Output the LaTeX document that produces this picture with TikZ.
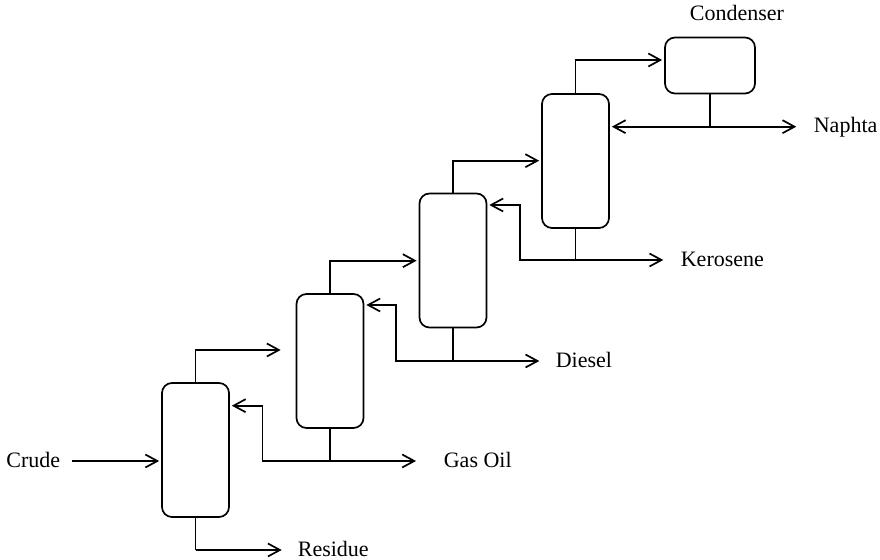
\documentclass[tikz,border=0pt]{standalone}
\usepackage{fontspec}
\setmainfont{Liberation Serif}
\usetikzlibrary{arrows.meta}
\begin{document}
\begin{tikzpicture}[x=0.5pt,y=-0.5pt,
  line width=0.85pt,
  col/.style={draw, rounded corners=5pt, minimum width=33.5pt, minimum height=67pt, inner sep=0pt},
  cond/.style={draw, rounded corners=5pt, minimum width=45pt, minimum height=28pt, inner sep=0pt},
  lbl/.style={font=\fontsize{11}{13}\selectfont, inner sep=0pt},
  arr/.style={-{Straight Barb[length=6pt,width=6.5pt]}, shorten >=1pt}
]
\useasboundingbox (0,0) rectangle (880,560);
% vessels
\node[col] (c1) at (195.5,450) {};
\node[col] (c2) at (330,361) {};
\node[col] (c3) at (453,260.5) {};
\node[col] (c4) at (575.5,161) {};
\node[cond] (cd) at (710,65.5) {};
% labels
\node[lbl, anchor=base east] (crude) at (61,467.5) {Crude};
\node[lbl, anchor=base west] (res) at (297,556.5) {Residue};
\node[lbl, anchor=base west] (gas) at (443,467.5) {Gas Oil};
\node[lbl, anchor=base west] (dsl) at (555,367.5) {Diesel};
\node[lbl, anchor=base west] (ker) at (680,266.5) {Kerosene};
\node[lbl, anchor=base west] (nap) at (813,133) {Naphta};
\node[lbl, anchor=base] (cdl) at (737,21) {Condenser};
% junctions and bends
\coordinate (j1) at (195.5,550);
\coordinate (j2) at (330,461);
\coordinate (j3) at (453,361);
\coordinate (j4) at (575.5,260);
\coordinate (j5) at (710,126.7);
\coordinate (t1) at (195.5,350);
\coordinate (t2) at (330,260.7);
\coordinate (t3) at (453,160.7);
\coordinate (t4) at (575.5,60);
\coordinate (r1) at (262.5,405.7);
\coordinate (r2) at (396,305);
\coordinate (r3) at (520,205);
% connectors
\draw[arr, shorten <=5.35pt] (crude.east |- j2) -- (c1.west |- j2);
\draw (c1.south) -- (j1);
\draw[arr, shorten >=7.65pt] (j1) -- (res.west |- j1);
\draw[arr, shorten >=7.5pt] (c1.north) |- (c2.west |- t1);
\draw (c2.south) -- (j2);
\draw[arr] (j2) -| (r1) -- (c1.east |- r1);
\draw[arr, shorten >=13.5pt] (j2) -- (gas.west |- j2);
\draw[arr] (c2.north) |- (c3.west |- t2);
\draw (c3.south) -- (j3);
\draw[arr] (j3) -| (r2) -- (c2.east |- r2);
\draw[arr, shorten >=7.85pt] (j3) -- (dsl.west |- j3);
\draw[arr] (c3.north) |- (c4.west |- t3);
\draw (c4.south) -- (j4);
\draw[arr] (j4) -| (r3) -- (c3.east |- r3);
\draw[arr, shorten >=8.35pt] (j4) -- (ker.west |- j4);
\draw[arr] (c4.north) |- (cd.west |- t4);
\draw (cd.south) -- (j5);
\draw[arr] (j5) -- (c4.east |- j5);
\draw[arr, shorten >=8.35pt] (j5) -- (nap.west |- j5);
\end{tikzpicture}
\end{document}
